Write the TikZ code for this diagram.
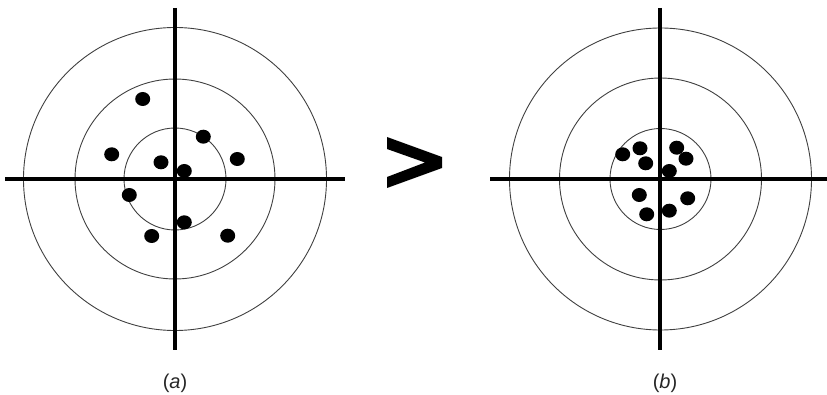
\documentclass[tikz,border=0pt]{standalone}
\usepackage{fontspec}
\setmainfont{Liberation Sans}
\begin{document}
\begin{tikzpicture}[x=1pt,y=-1pt,
  ring/.style={draw=black!75,line width=0.9pt},
  crossline/.style={line width=3.6pt},
  shot/.style={fill=black},
  caption/.style={font=\fontsize{20}{24}\selectfont,inner sep=0pt,text=black!85}]
\useasboundingbox (0,0) rectangle (827,395);
% target (a)
\foreach \r in {51,100,151.5} \draw[ring] (175,179) circle (\r);
\draw[crossline] (5,179) -- (345,179);
\draw[crossline] (175,8) -- (175,350);
\foreach \p in {(142.7,99),(111.7,154.3),(161,162.3),(203.3,136.7),(237.3,159),(184.3,171),(129.3,195),(184.3,222.3),(151.7,236),(227.7,235.7)}
  \fill[shot] \p ellipse (7.5 and 7);
% greater-than sign
\fill (387,137) -- (442,157) -- (442,168) -- (387,188) -- (387,177) -- (425,162.5) -- (387,149) -- cycle;
% target (b)
\foreach \r in {50.5,101,151} \draw[ring] (660.5,179) circle (\r);
\draw[crossline] (490,179) -- (827,179);
\draw[crossline] (660,8) -- (660,350);
\foreach \p in {(622.7,154.3),(640,148.3),(645.7,163.3),(676.7,147.7),(686,158.7),(669.3,171),(639.3,195),(646.7,214.3),(669.3,210.7),(687.7,198.3)}
  \fill[shot] \p ellipse (7.5 and 7);
% captions
\node[caption] (capa) at (175,383) {(\textit{a})};
\node[caption] (capb) at (665,383) {(\textit{b})};
\end{tikzpicture}
\end{document}
